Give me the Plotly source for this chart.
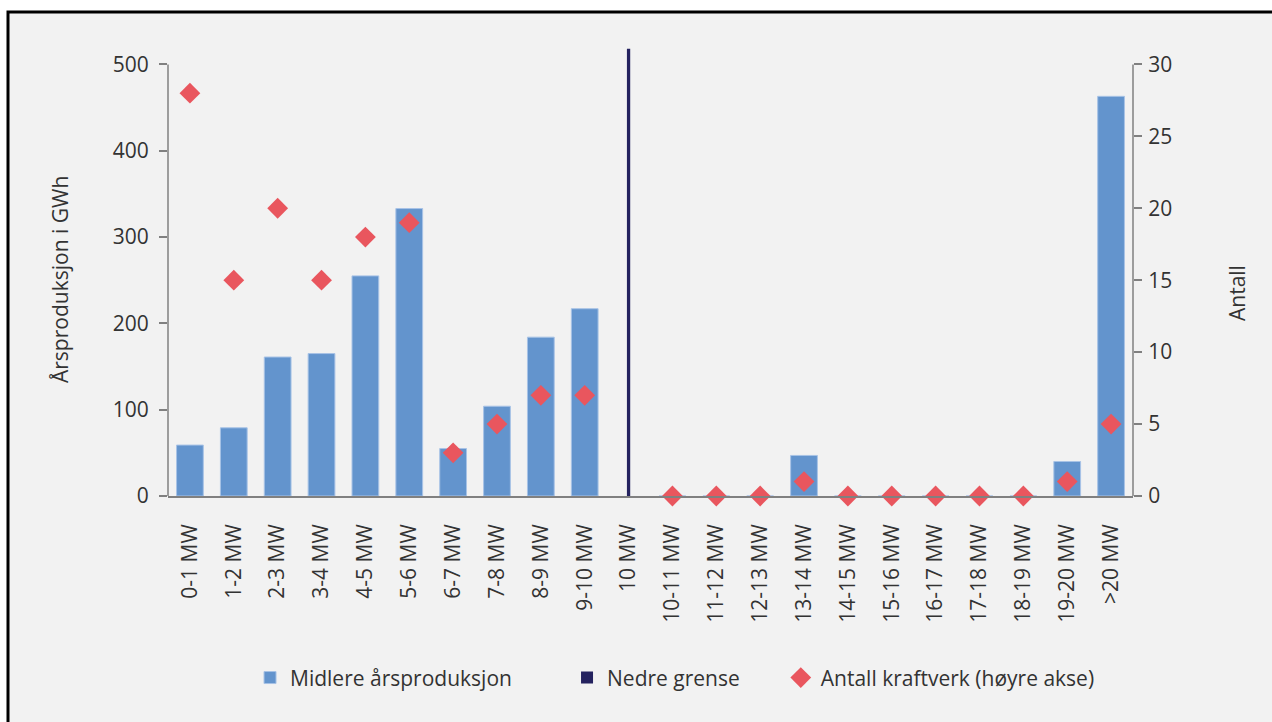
import plotly.graph_objects as go

# Kategorier (installert effekt) og verdier
kategorier = ["0-1 MW", "1-2 MW", "2-3 MW", "3-4 MW", "4-5 MW", "5-6 MW", "6-7 MW",
              "7-8 MW", "8-9 MW", "9-10 MW", "10 MW", "10-11 MW", "11-12 MW",
              "12-13 MW", "13-14 MW", "14-15 MW", "15-16 MW", "16-17 MW",
              "17-18 MW", "18-19 MW", "19-20 MW", ">20 MW"]

# Midlere årsproduksjon (GWh)
produksjon = [59, 79, 161, 165, 255, 333, 55, 104, 184, 217, None,
              0, 0, 0, 47, 0, 0, 0, 0, 0, 40, 463]

# Antall kraftverk (høyre akse)
antall = [28, 15, 20, 15, 18, 19, 3, 5, 7, 7, None,
          0, 0, 0, 1, 0, 0, 0, 0, 0, 1, 5]

# Nedre grense ved 10 MW
nedre_kategori = ["10 MW"]
nedre_verdi = [518]

venstre_ticks = [0, 100, 200, 300, 400, 500]
hoyre_ticks = [0, 5, 10, 15, 20, 25, 30]

FONT = "Open Sans"
TEKST = "#333333"
AKSE = "#808080"

y_max = 519
y2_max = y_max / venstre_ticks[-1] * hoyre_ticks[-1]

fig = go.Figure()

fig.add_trace(go.Bar(
    x=kategorier, y=produksjon, name="Midlere årsproduksjon",
    width=0.61, marker=dict(color="#6394cd", line=dict(color="#a8c3e6", width=1)),
    legend="legend", yaxis="y",
))

fig.add_trace(go.Bar(
    x=nedre_kategori, y=nedre_verdi, name="Nedre grense",
    width=0.075, marker=dict(color="#24225f", line=dict(width=0)),
    legend="legend2", yaxis="y",
))

fig.add_trace(go.Scatter(
    x=kategorier, y=antall, name="Antall kraftverk (høyre akse)",
    mode="markers", marker=dict(symbol="diamond", size=16, color="#e9565e"),
    cliponaxis=False, legend="legend3", yaxis="y2",
))

# Bakgrunnsramme
shapes = [dict(type="rect", xref="paper", yref="paper",
               x0=-0.1658, x1=1.16, y0=-0.53, y1=1.0804,
               fillcolor="#f2f2f2", line=dict(color="black", width=3), layer="below")]
# Aksestreker fra 0 til øverste tick
shapes.append(dict(type="line", xref="paper", yref="y", x0=0, x1=0,
                   y0=venstre_ticks[0], y1=venstre_ticks[-1],
                   line=dict(color=AKSE, width=1.5)))
shapes.append(dict(type="line", xref="paper", yref="y", x0=1, x1=1,
                   y0=venstre_ticks[0], y1=venstre_ticks[-1],
                   line=dict(color=AKSE, width=1.5)))

legend_felles = dict(orientation="h", yanchor="middle", y=-0.406, xanchor="left",
                     bgcolor="rgba(0,0,0,0)", font=dict(family=FONT, size=21, color=TEKST))

fig.update_layout(
    width=1272, height=722,
    margin=dict(l=168, r=139, t=48, b=226),
    paper_bgcolor="white", plot_bgcolor="#f2f2f2",
    barmode="overlay",
    font=dict(family=FONT, size=21, color=TEKST),
    shapes=shapes,
    showlegend=True,
    legend=dict(x=0.085, **legend_felles),
    legend2=dict(x=0.4135, **legend_felles),
    legend3=dict(x=0.635, **legend_felles),
    xaxis=dict(
        type="category", categoryorder="array", categoryarray=kategorier,
        range=[-0.5, len(kategorier) - 0.5],
        showline=True, linecolor=AKSE, linewidth=1.5,
        ticks="", tickangle=-90, ticklabelstandoff=18,
        tickfont=dict(family=FONT, size=21, color=TEKST),
        showgrid=False, zeroline=False,
    ),
    yaxis=dict(
        range=[0, y_max], tickvals=venstre_ticks,
        ticks="outside", ticklen=8, tickwidth=1.5, tickcolor=AKSE,
        ticklabelstandoff=6,
        showline=False, showgrid=False, zeroline=False,
        tickfont=dict(family=FONT, size=21, color=TEKST),
    ),
    yaxis2=dict(
        range=[0, y2_max], tickvals=hoyre_ticks, overlaying="y", side="right",
        ticks="outside", ticklen=8, tickwidth=1.5, tickcolor=AKSE,
        ticklabelstandoff=2,
        showline=False, showgrid=False, zeroline=False,
        tickfont=dict(family=FONT, size=21, color=TEKST),
    ),
    annotations=[
        dict(text="Årsproduksjon i GWh", textangle=-90, xref="paper", yref="paper",
             x=(60 - 168) / 965, y=(496 - 280) / 448, xanchor="center", yanchor="middle",
             showarrow=False, font=dict(family=FONT, size=21, color=TEKST)),
        dict(text="Antall", textangle=-90, xref="paper", yref="paper",
             x=(1237 - 168) / 965, y=(496 - 293) / 448, xanchor="center", yanchor="middle",
             showarrow=False, font=dict(family=FONT, size=21, color=TEKST)),
    ],
)

fig.write_html("out.html")
